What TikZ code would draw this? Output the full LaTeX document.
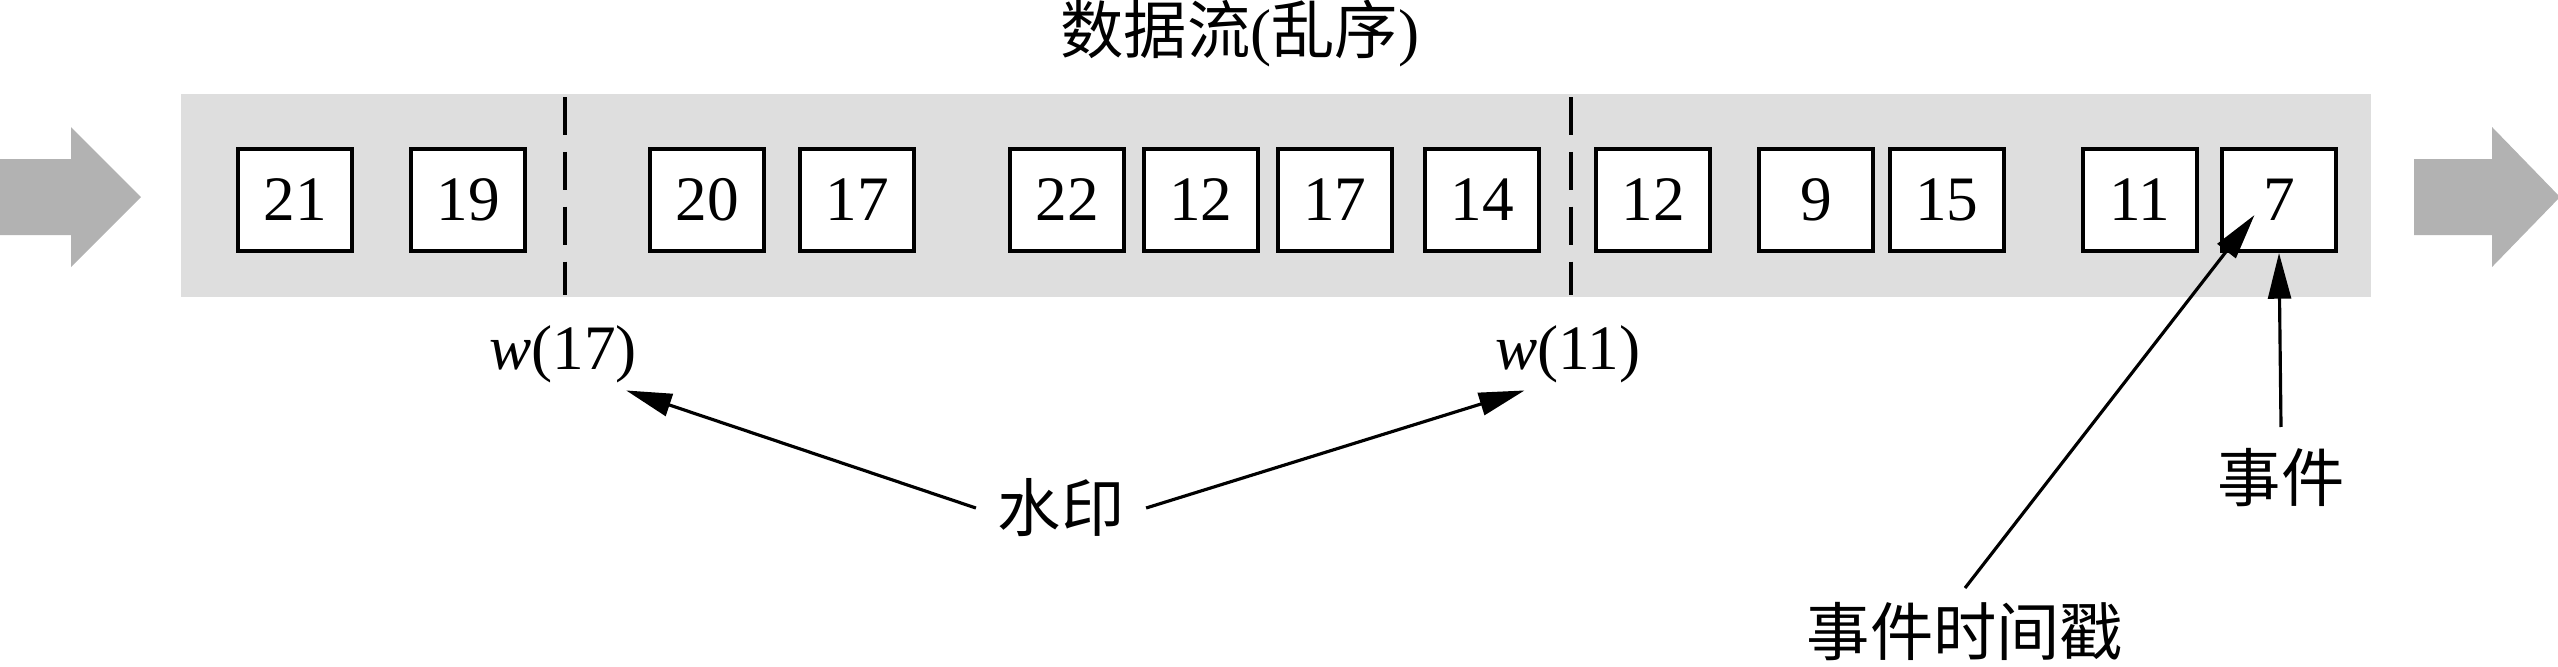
\documentclass[tikz,border=0pt]{standalone}
\usepackage{fontspec}
\setmainfont{Liberation Serif}
\newfontfamily\cjk{Noto Sans CJK SC}
\usetikzlibrary{arrows.meta,positioning}

\begin{document}
\begin{tikzpicture}[
  x=0.01cm, y=-0.01cm,
  font=\fontsize{18}{21}\selectfont,
  evt/.style={draw, line width=1.1pt, fill=white, minimum width=1.14cm, minimum height=1.02cm, inner sep=0pt},
  lbl/.style={inner sep=6pt},
  arr/.style={-{Triangle[length=13pt, width=6.5pt]}, line width=0.9pt},
  wmline/.style={line width=1.1pt, dash pattern=on 10.8pt off 4.8pt},
  flow/.style={fill=black!30}
]
\useasboundingbox (0,0) rectangle (2558,666);
% stream band and in/out arrows
\fill[black!13] (181,94) rectangle (2371,297);
\fill[flow] (0,159) -- (71,159) -- (71,127) -- (141,197) -- (71,267) -- (71,235) -- (0,235) -- cycle;
\fill[flow] (2414,159) -- (2492,159) -- (2492,127) -- (2560,197) -- (2492,267) -- (2492,235) -- (2414,235) -- cycle;
\node (title) at (1240,33) {{\cjk 数据流}({\cjk 乱序})};
% watermarks
\draw[wmline] (565,97) -- (565,295);
\draw[wmline] (1571,97) -- (1571,295);
% events
\node[evt] (e21) at (295,200) {21};
\node[evt] (e19) at (468,200) {19};
\node[evt] (e20) at (707,200) {20};
\node[evt] (e17a) at (857,200) {17};
\node[evt] (e22) at (1067,200) {22};
\node[evt, right=0.16cm of e22] (e12a) {12};
\node[evt, right=0.16cm of e12a] (e17b) {17};
\node[evt] (e14) at (1482,200) {14};
\node[evt] (e12b) at (1653,200) {12};
\node[evt] (e9) at (1816,200) {9};
\node[evt, right=0.13cm of e9] (e15) {15};
\node[evt] (e11) at (2140,200) {11};
\node[evt] (e7) at (2279,200) {7};
% labels
\node[inner sep=2pt] (w17) at (563,354) {\textit{w}(17)};
\node[inner sep=2pt] (w11) at (1568,354) {\textit{w}(11)};
\node[lbl] (wmk) at (1061,508) {\cjk 水印};
\node[lbl] (evl) at (2281,478) {\cjk 事件};
\node[lbl, inner sep=4pt] (tsl) at (1965,632) {\cjk 事件时间戳};
\coordinate (hit) at ([xshift=-0.245cm, yshift=-0.15cm]e7.center);
\draw[arr] (wmk.west) -- (w17.-30);
\draw[arr] (wmk.east) -- (w11.-140);
\draw[arr] (evl.north) -- (e7.south);
\draw[arr] (tsl.north) -- (hit);
\end{tikzpicture}
\end{document}
